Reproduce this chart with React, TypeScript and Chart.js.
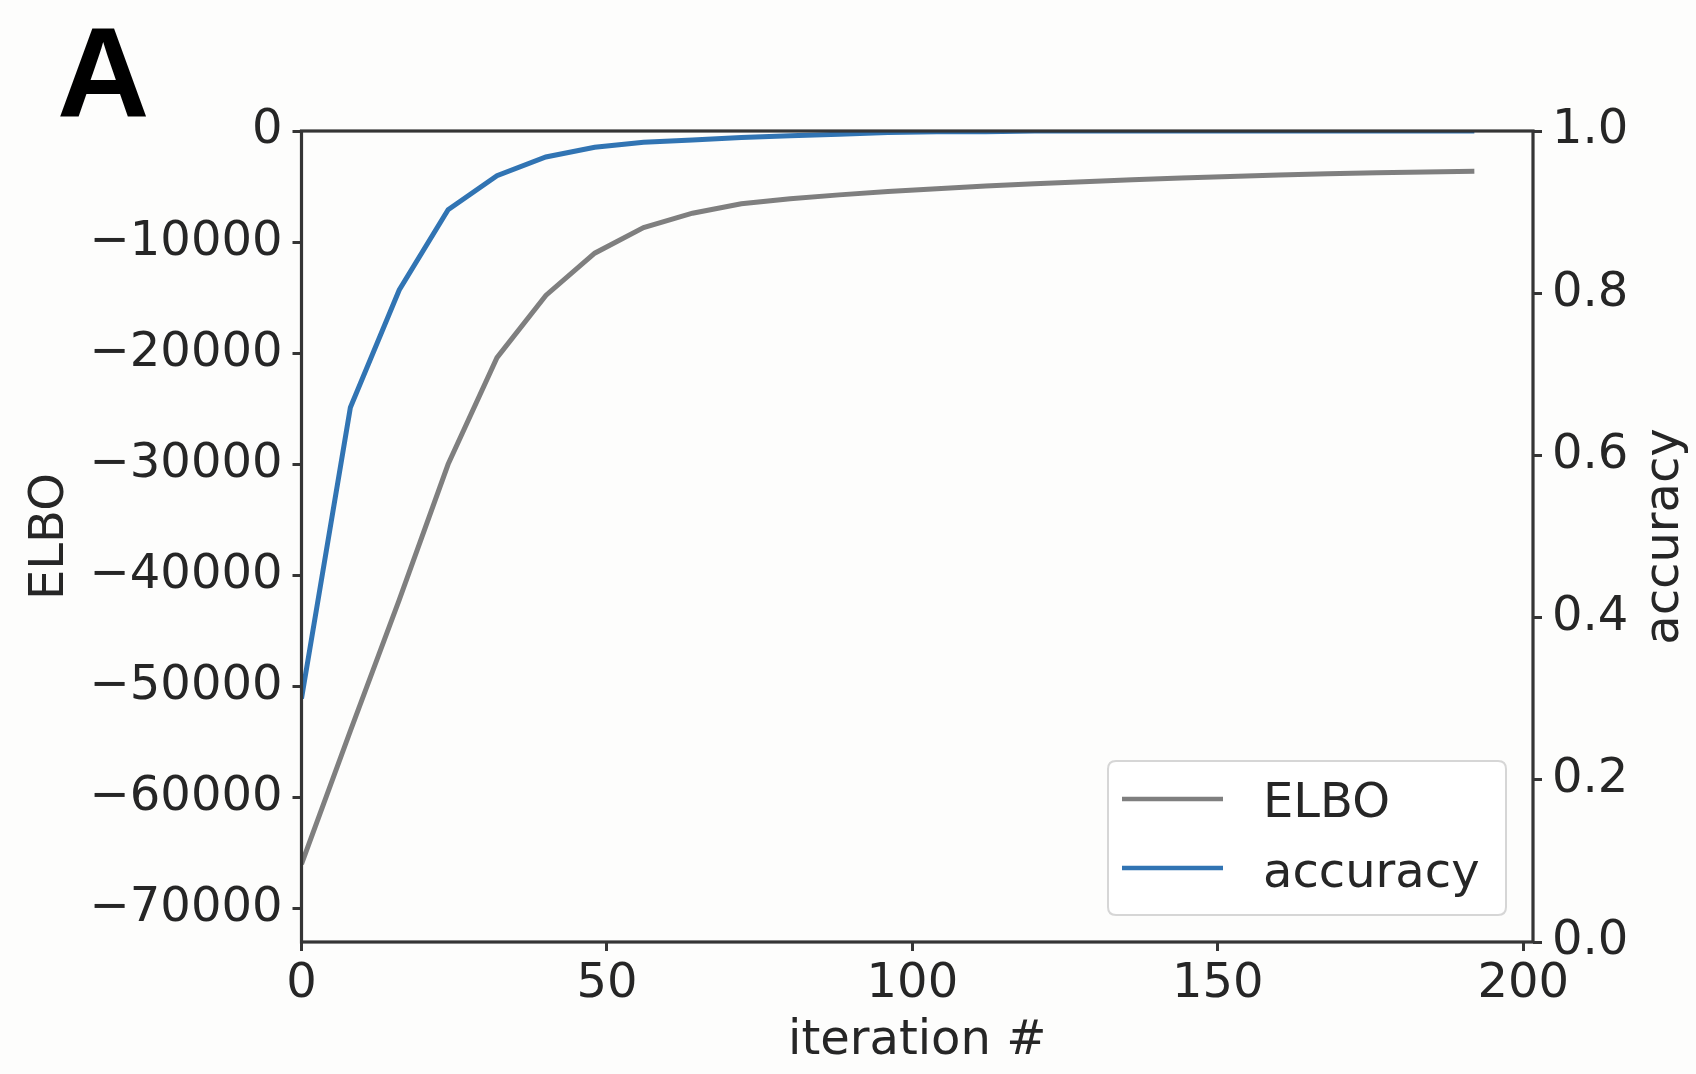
import React, { useEffect, useRef } from 'react';
import { Chart, registerables } from 'chart.js';

Chart.register(...registerables);

// ---- data ----
const ITERATIONS = [0, 8, 16, 24, 32, 40, 48, 56, 64, 72, 80, 88, 96, 104, 112, 120, 128, 136, 144, 152, 160, 168, 176, 184, 192];
const ELBO_VALUES = [-66000, -54000, -42200, -30000, -20400, -14800, -11000, -8700, -7400, -6550, -6100, -5750, -5450, -5200, -4950, -4750, -4560, -4390, -4240, -4100, -3960, -3850, -3760, -3690, -3630];
const ACCURACY_VALUES = [0.3, 0.659, 0.804, 0.903, 0.945, 0.968, 0.98, 0.986, 0.989, 0.992, 0.994, 0.996, 0.998, 0.999, 0.999, 1.0, 1.0, 1.0, 1.0, 1.0, 1.0, 1.0, 1.0, 1.0, 1.0];

const X_TICKS = [0, 50, 100, 150, 200];
const ELBO_TICKS = [0, -10000, -20000, -30000, -40000, -50000, -60000, -70000];
const ACCURACY_TICKS = [0, 0.2, 0.4, 0.6, 0.8, 1.0];

const SERIES_LABELS = ['ELBO', 'accuracy'];
const X_TITLE = 'iteration #';
const LEFT_TITLE = 'ELBO';
const RIGHT_TITLE = 'accuracy';
const PANEL_LABEL = 'A';

// ---- styling ----
const FONT_FAMILY = "'DejaVu Sans', 'Noto Sans', sans-serif";
const TEXT_COLOR = '#262626';
const SPINE_COLOR = '#353535';
const GRAY = '#7f7f7f';
const BLUE = '#3174b3';
const BG = '#fdfdfc';

const backgroundPlugin = {
  id: 'bgFill',
  beforeDraw(chart: any) {
    const { ctx, width, height } = chart;
    ctx.save();
    ctx.fillStyle = BG;
    ctx.fillRect(0, 0, width, height);
    ctx.restore();
  },
};

const framePlugin = {
  id: 'axesFrame',
  afterDatasetsDraw(chart: any) {
    const { ctx, chartArea } = chart;
    ctx.save();
    ctx.strokeStyle = SPINE_COLOR;
    ctx.lineWidth = 3.2;
    ctx.lineJoin = 'miter';
    ctx.strokeRect(chartArea.left, chartArea.top, chartArea.right - chartArea.left, chartArea.bottom - chartArea.top);
    ctx.restore();
  },
};

const decorPlugin = {
  id: 'decor',
  afterDraw(chart: any) {
    const { ctx, chartArea } = chart;
    ctx.save();
    // panel label
    ctx.fillStyle = '#000';
    ctx.font = "bold 128px 'Liberation Sans', Arial, sans-serif";
    ctx.textAlign = 'left';
    ctx.textBaseline = 'alphabetic';
    ctx.fillText(PANEL_LABEL, 57, 117);

    // right axis title (reads bottom-to-top)
    const rt = chart.options.scales.y1.title.text;
    ctx.fillStyle = TEXT_COLOR;
    ctx.font = `48px ${FONT_FAMILY}`;
    ctx.translate(1678, (chartArea.top + chartArea.bottom) / 2);
    ctx.rotate(-Math.PI / 2);
    ctx.textAlign = 'center';
    ctx.fillText(rt, 0, 0);
    ctx.restore();

    // legend box
    ctx.save();
    const bx = 1108, by = 761, bw = 398, bh = 154, r = 8;
    ctx.beginPath();
    ctx.moveTo(bx + r, by);
    ctx.lineTo(bx + bw - r, by);
    ctx.quadraticCurveTo(bx + bw, by, bx + bw, by + r);
    ctx.lineTo(bx + bw, by + bh - r);
    ctx.quadraticCurveTo(bx + bw, by + bh, bx + bw - r, by + bh);
    ctx.lineTo(bx + r, by + bh);
    ctx.quadraticCurveTo(bx, by + bh, bx, by + bh - r);
    ctx.lineTo(bx, by + r);
    ctx.quadraticCurveTo(bx, by, bx + r, by);
    ctx.closePath();
    ctx.fillStyle = 'rgba(255,255,255,0.85)';
    ctx.fill();
    ctx.strokeStyle = '#d6d6d6';
    ctx.lineWidth = 2;
    ctx.stroke();

    const rows = [799, 868];
    const baselines = [817, 887];
    chart.data.datasets.forEach((ds: any, i: number) => {
      ctx.beginPath();
      ctx.moveTo(1122, rows[i]);
      ctx.lineTo(1223, rows[i]);
      ctx.strokeStyle = ds.borderColor;
      ctx.lineWidth = 4.5;
      ctx.stroke();
      ctx.fillStyle = TEXT_COLOR;
      ctx.font = `48px ${FONT_FAMILY}`;
      ctx.textAlign = 'left';
      ctx.textBaseline = 'alphabetic';
      ctx.fillText(ds.label, 1263, baselines[i]);
    });
    ctx.restore();
  },
};

const tickFont = { family: FONT_FAMILY, size: 48 };
const gridOpts = {
  display: true,
  drawOnChartArea: false,
  drawTicks: true,
  tickLength: 9,
  tickWidth: 3,
  tickColor: SPINE_COLOR,
};

export default function App() {
  const canvasRef = useRef<HTMLCanvasElement | null>(null);

  useEffect(() => {
    if (!canvasRef.current) return;
    const chart = new Chart(canvasRef.current, {
      type: 'line',
      data: {
        datasets: [
          {
            label: SERIES_LABELS[0],
            data: ITERATIONS.map((x, i) => ({ x, y: ELBO_VALUES[i] })),
            borderColor: GRAY,
            backgroundColor: GRAY,
            borderWidth: 5,
            pointRadius: 0,
            tension: 0,
            fill: false,
            yAxisID: 'y',
            xAxisID: 'x',
          },
          {
            label: SERIES_LABELS[1],
            data: ITERATIONS.map((x, i) => ({ x, y: ACCURACY_VALUES[i] })),
            borderColor: BLUE,
            backgroundColor: BLUE,
            borderWidth: 5,
            pointRadius: 0,
            tension: 0,
            fill: false,
            yAxisID: 'y1',
            xAxisID: 'x',
          },
        ],
      },
      options: {
        animation: false,
        responsive: false,
        devicePixelRatio: 1,
        layout: { padding: { top: 131, left: 0, right: 0, bottom: 0 } },
        plugins: {
          legend: { display: false },
          tooltip: { enabled: false },
          title: { display: false },
        },
        scales: {
          x: {
            type: 'linear',
            position: 'bottom',
            min: 0,
            max: 201.6,
            afterBuildTicks: (s: any) => { s.ticks = X_TICKS.map((v) => ({ value: v })); },
            afterFit: (s: any) => { s.height = 132; },
            ticks: {
              font: tickFont,
              color: TEXT_COLOR,
              padding: 5,
              maxRotation: 0,
              autoSkip: false,
              callback: (v: any) => String(v),
            },
            grid: gridOpts,
            border: { display: false },
            title: {
              display: true,
              text: X_TITLE,
              font: tickFont,
              color: TEXT_COLOR,
              padding: { top: 0, bottom: 4 },
            },
          },
          y: {
            type: 'linear',
            position: 'left',
            min: -73000,
            max: 0,
            afterBuildTicks: (s: any) => { s.ticks = ELBO_TICKS.map((v) => ({ value: v })); },
            afterFit: (s: any) => { s.width = 301.5; },
            ticks: {
              font: tickFont,
              color: TEXT_COLOR,
              padding: 10,
              autoSkip: false,
              callback: (v: any) => (Number(v) === 0 ? '0' : '\u2212' + Math.abs(Number(v))),
            },
            grid: gridOpts,
            border: { display: false },
            title: {
              display: true,
              text: LEFT_TITLE,
              font: tickFont,
              color: TEXT_COLOR,
              padding: { top: 22, bottom: 0 },
            },
          },
          y1: {
            type: 'linear',
            position: 'right',
            min: 0,
            max: 1,
            afterBuildTicks: (s: any) => { s.ticks = ACCURACY_TICKS.map((v) => ({ value: v })); },
            afterFit: (s: any) => { s.width = 163; },
            ticks: {
              font: tickFont,
              color: TEXT_COLOR,
              padding: 10,
              autoSkip: false,
              callback: (v: any) => Number(v).toFixed(1),
            },
            grid: gridOpts,
            border: { display: false },
            title: { display: false, text: RIGHT_TITLE },
          },
        },
      } as any,
      plugins: [backgroundPlugin, framePlugin, decorPlugin],
    });
    return () => chart.destroy();
  }, []);

  return (
    <div style={{ position: 'fixed', left: 0, top: 0, width: 1696, height: 1074, background: BG }}>
      <canvas ref={canvasRef} width={1696} height={1074} style={{ display: 'block' }} />
    </div>
  );
}
